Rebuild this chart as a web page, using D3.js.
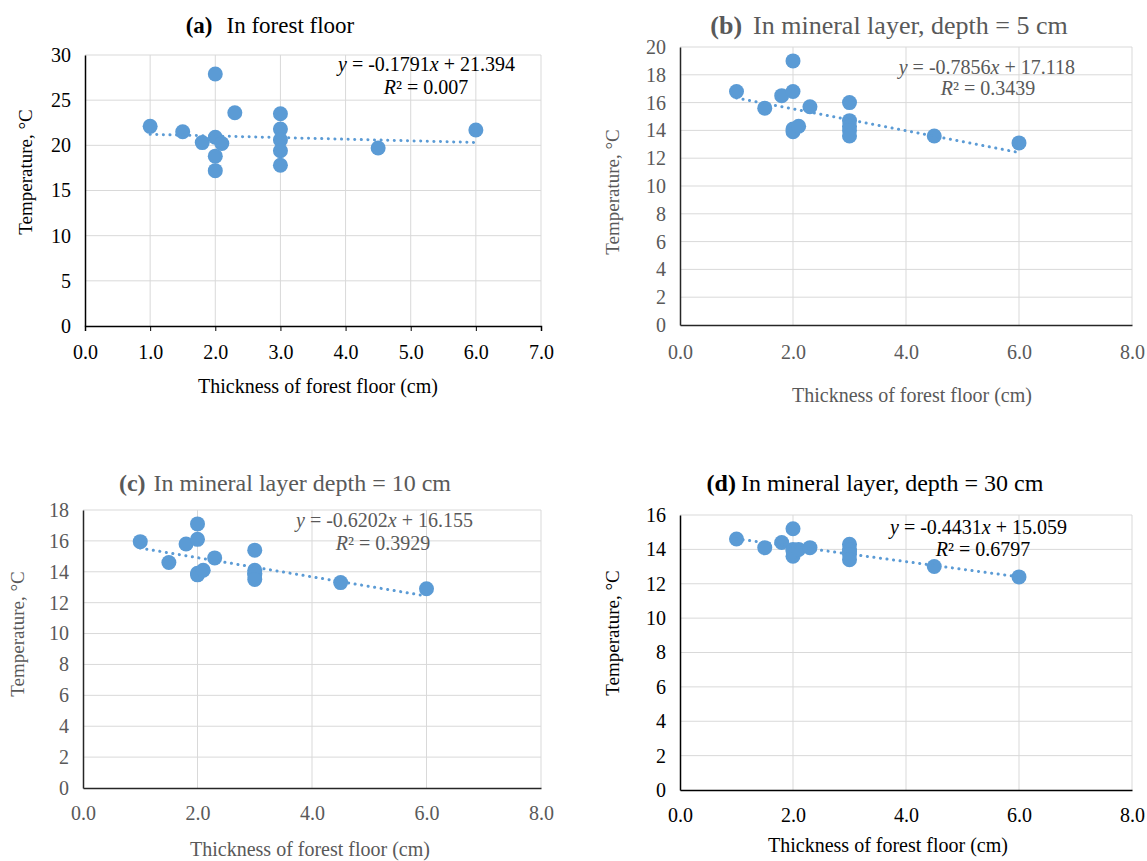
<!DOCTYPE html>
<html>
<head>
<meta charset="utf-8">
<script src="https://cdn.jsdelivr.net/npm/d3@7"></script>
<style>
  body { margin: 0; background: #fff; }
  svg { font-family: "Liberation Serif", "Times New Roman", serif; }
</style>
</head>
<body>
<div id="chart"></div>
<script>
// Thickness of forest floor (cm), same sites in every panel
const thickness = [1.0, 1.5, 1.8, 2.0, 2.0, 2.0, 2.0, 2.1, 2.3, 3.0, 3.0, 3.0, 3.0, 3.0, 4.5, 6.0];

// Temperature (°C) per panel
const tempForestFloor = [22.1, 21.5, 20.3, 27.9, 20.9, 18.8, 17.2, 20.2, 23.6, 23.5, 21.8, 20.6, 19.4, 17.8, 19.7, 21.7];
const tempMineral5 = [16.8, 15.6, 16.5, 19.0, 16.8, 13.9, 14.1, 14.3, 15.7, 16.0, 14.7, 14.3, 14.0, 13.6, 13.6, 13.1];
const tempMineral10 = [15.95, 14.6, 15.8, 17.1, 16.1, 13.8, 13.9, 14.1, 14.9, 15.4, 14.1, 13.9, 13.8, 13.5, 13.3, 12.9];
const tempMineral30 = [14.6, 14.1, 14.4, 15.2, 14.0, 13.6, 13.9, 14.0, 14.1, 14.3, 14.0, 13.9, 13.7, 13.4, 13.0, 12.4];

// fitted trendlines (from the equations printed on the chart)
const slopes = [-0.1791, -0.7856, -0.6202, -0.4431];
const intercepts = [21.394, 17.118, 16.155, 15.059];
const rSquared = ["0.007", "0.3439", "0.3929", "0.6797"];

const panelLetters = ["(a)", "(b)", "(c)", "(d)"];
const panelTitles = ["In forest floor", "In mineral layer, depth = 5 cm", "In mineral layer depth = 10 cm", "In mineral layer, depth = 30 cm"];

const xTicksA = [0, 1, 2, 3, 4, 5, 6, 7];
const xTicksB = [0, 2, 4, 6, 8];
const yTicksA = [0, 5, 10, 15, 20, 25, 30];
const yTicks20 = [0, 2, 4, 6, 8, 10, 12, 14, 16, 18, 20];
const yTicks18 = [0, 2, 4, 6, 8, 10, 12, 14, 16, 18];
const yTicks16 = [0, 2, 4, 6, 8, 10, 12, 14, 16];

const xLabel = "Thickness of forest floor (cm)";
const yLabel = "Temperature, \u00B0C";

// layout per panel
const panels = [
  { temps: tempForestFloor, xTicks: xTicksA, yTicks: yTicksA, left: 85, right: 541, top: 55, bottom: 326,
    color: "#000", axisColor: "#000", xTickMarks: true,
    titleX: 270, titleY: 33, titleSize: 23, titleGap: 14, yLabelX: 32, yLabelY: 172, xTickY: 352, xLabelX: 318, xLabelY: 393,
    eqX: 515, eqY: 71, r2X: 426, r2Y: 94 },
  { temps: tempMineral5, xTicks: xTicksB, yTicks: yTicks20, left: 680, right: 1132, top: 47, bottom: 325,
    color: "#595959", axisColor: "#262626", xTickMarks: false,
    titleX: 889, titleY: 34, titleSize: 26, titleGap: 11, yLabelX: 619, yLabelY: 192, xTickY: 352, xLabelX: 912, xLabelY: 402,
    eqX: 1075, eqY: 74, r2X: 988, r2Y: 95 },
  { temps: tempMineral10, xTicks: xTicksB, yTicks: yTicks18, left: 83, right: 541, top: 510, bottom: 788,
    color: "#595959", axisColor: "#262626", xTickMarks: false,
    titleX: 285, titleY: 491, titleSize: 24, titleGap: 8, yLabelX: 24, yLabelY: 634, xTickY: 813, xLabelX: 310, xLabelY: 856,
    eqX: 473, eqY: 527, r2X: 383, r2Y: 550 },
  { temps: tempMineral30, xTicks: xTicksB, yTicks: yTicks16, left: 680, right: 1132, top: 515, bottom: 790,
    color: "#000", axisColor: "#000", xTickMarks: false,
    titleX: 875, titleY: 491, titleSize: 24, titleGap: 5, yLabelX: 619, yLabelY: 633, xTickY: 815, xLabelX: 888, xLabelY: 852,
    eqX: 1067, eqY: 534, r2X: 983, r2Y: 556 }
];

const svg = d3.select("#chart").append("svg")
  .attr("width", 1147)
  .attr("height", 861);

panels.forEach((p, i) => {
  const g = svg.append("g");
  const x = d3.scaleLinear()
    .domain(d3.extent(p.xTicks))
    .range([p.left, p.right]);
  const y = d3.scaleLinear()
    .domain(d3.extent(p.yTicks))
    .range([p.bottom, p.top]);

  // gridlines
  g.append("g")
    .selectAll("line")
    .data(p.yTicks.filter(d => d > 0))
    .join("line")
    .attr("x1", p.left).attr("x2", p.right)
    .attr("y1", d => y(d)).attr("y2", d => y(d))
    .attr("stroke", "#d9d9d9").attr("stroke-width", 1);
  g.append("g")
    .selectAll("line")
    .data(p.xTicks.filter(d => d > 0))
    .join("line")
    .attr("x1", d => x(d)).attr("x2", d => x(d))
    .attr("y1", p.top).attr("y2", p.bottom)
    .attr("stroke", "#d9d9d9").attr("stroke-width", 1);

  // axes
  const xAxis = d3.axisBottom(x)
    .tickValues(p.xTicks)
    .tickFormat(d3.format(".1f"))
    .tickSize(p.xTickMarks ? 5 : 0)
    .tickPadding(0);
  const gx = g.append("g")
    .attr("transform", `translate(0,${p.bottom})`)
    .call(xAxis);
  gx.select(".domain").attr("stroke", p.axisColor).attr("stroke-width", 1.5);
  gx.selectAll(".tick line").attr("stroke", p.axisColor);
  gx.selectAll(".tick text")
    .attr("y", p.xTickY - p.bottom)
    .attr("dy", "0.35em")
    .attr("fill", p.color)
    .style("font-size", "20px")
    .style("font-family", "Liberation Serif");

  const yAxis = d3.axisLeft(y)
    .tickValues(p.yTicks)
    .tickSize(0)
    .tickPadding(14);
  const gy = g.append("g")
    .attr("transform", `translate(${p.left},0)`)
    .call(yAxis);
  gy.select(".domain").attr("stroke", p.axisColor).attr("stroke-width", 1.5);
  gy.selectAll(".tick text")
    .attr("fill", p.color)
    .style("font-size", "20px")
    .style("font-family", "Liberation Serif");

  // title
  const t = g.append("text")
    .attr("x", p.titleX).attr("y", p.titleY)
    .attr("text-anchor", "middle")
    .attr("fill", p.color)
    .style("font-size", p.titleSize + "px");
  t.append("tspan").attr("font-weight", "bold").text(panelLetters[i]);
  t.append("tspan").attr("dx", p.titleGap).text(panelTitles[i]);

  // axis titles
  g.append("text")
    .attr("transform", `translate(${p.yLabelX},${p.yLabelY}) rotate(-90)`)
    .attr("text-anchor", "middle")
    .attr("fill", p.color)
    .style("font-size", "19px")
    .text(yLabel);
  g.append("text")
    .attr("x", p.xLabelX)
    .attr("y", p.xLabelY)
    .attr("text-anchor", "middle")
    .attr("fill", p.color)
    .style("font-size", "20px")
    .text(xLabel);

  // points
  g.append("g")
    .selectAll("circle")
    .data(thickness.map((d, k) => [d, p.temps[k]]))
    .join("circle")
    .attr("cx", d => x(d[0]))
    .attr("cy", d => y(d[1]))
    .attr("r", 7.5)
    .attr("fill", "#5b9bd5");

  // trendline
  const xr = d3.extent(thickness);
  g.append("line")
    .attr("x1", x(xr[0])).attr("y1", y(slopes[i] * xr[0] + intercepts[i]))
    .attr("x2", x(xr[1])).attr("y2", y(slopes[i] * xr[1] + intercepts[i]))
    .attr("stroke", "#5b9bd5")
    .attr("stroke-width", 3)
    .attr("stroke-linecap", "round")
    .attr("stroke-dasharray", "0.1 6.5");

  // equation
  const eq = g.append("text")
    .attr("x", p.eqX).attr("y", p.eqY)
    .attr("text-anchor", "end")
    .attr("fill", p.color)
    .style("font-size", "20px");
  eq.append("tspan").attr("font-style", "italic").text("y");
  eq.append("tspan").text(` = ${slopes[i]}`);
  eq.append("tspan").attr("font-style", "italic").text("x");
  eq.append("tspan").text(` + ${intercepts[i]}`);

  const r2 = g.append("text")
    .attr("x", p.r2X).attr("y", p.r2Y)
    .attr("text-anchor", "middle")
    .attr("fill", p.color)
    .style("font-size", "20px");
  r2.append("tspan").attr("font-style", "italic").text("R");
  r2.append("tspan").text(`\u00B2 = ${rSquared[i]}`);
});
</script>
</body>
</html>
